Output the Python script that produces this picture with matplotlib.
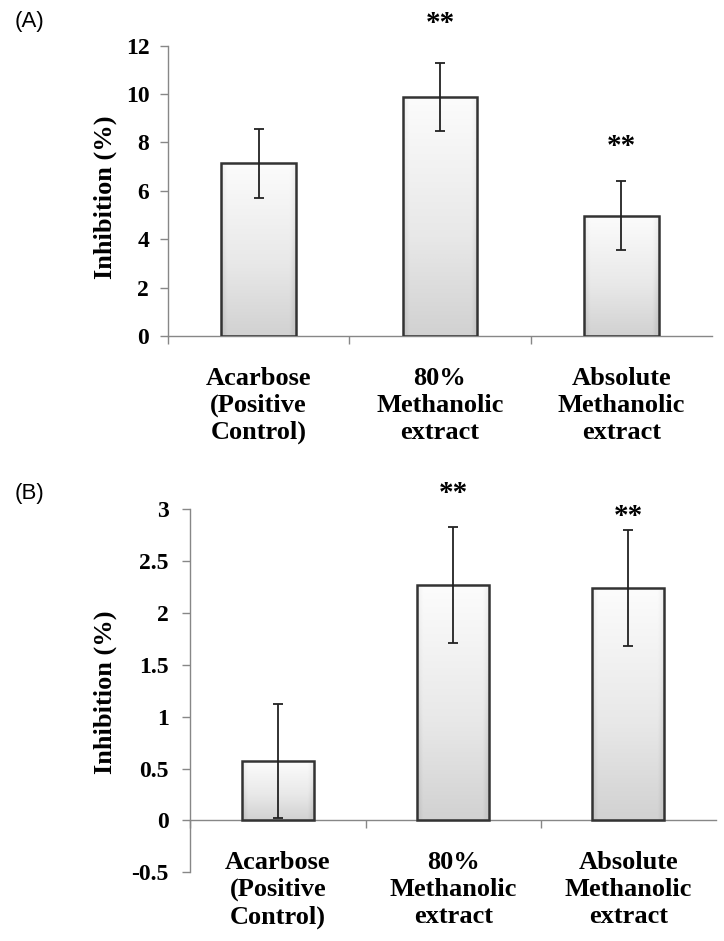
import numpy as np
import matplotlib
matplotlib.use("Agg")
import matplotlib.pyplot as plt
from matplotlib.colors import LinearSegmentedColormap

categories = ["Acarbose\n(Positive\nControl)", "80%\nMethanolic\nextract", "Absolute\nMethanolic\nextract"]

a_means = [7.14, 9.88, 4.97]
a_errs = [1.42, 1.40, 1.43]
a_stars = ["", "**", "**"]
a_star_y = [None, 12.9, 7.85]
a_yticks = [0, 2, 4, 6, 8, 10, 12]

b_means = [0.57, 2.27, 2.24]
b_errs = [0.55, 0.56, 0.56]
b_stars = ["", "**", "**"]
b_star_y = [None, 3.15, 2.93]
b_yticks = [-0.5, 0, 0.5, 1, 1.5, 2, 2.5, 3]
b_yticklabels = ["-0.5", "0", "0.5", "1", "1.5", "2", "2.5", "3"]

SERIF = "Liberation Serif"
AXIS_GRAY = "#878787"

W, H = 724, 941
fig = plt.figure(figsize=(W / 100, H / 100), dpi=100)

def px_axes(left, right, top, bottom):
    return fig.add_axes([left / W, 1 - bottom / H, (right - left) / W, (bottom - top) / H])

cmap = LinearSegmentedColormap.from_list("g", ["#fcfcfc", "#e8e8e8", "#c8c8c8"])

def gradient_bars(ax, means):
    bars = ax.bar(range(len(means)), means, width=0.41, color="none",
                  edgecolor="#333333", linewidth=1.8, zorder=3)
    for b in bars:
        x0, y0 = b.get_x(), b.get_y()
        w, h = b.get_width(), b.get_height()
        ny, nx = 100, 60
        yy = np.linspace(0, 1, ny)[:, None]
        xx = np.linspace(0, 1, nx)[None, :]
        edge = np.clip(np.minimum(xx, 1 - xx) / 0.08, 0, 1)
        val = np.clip(yy * 0.85 + (1 - edge) * 0.3, 0, 1)
        im = ax.imshow(val, extent=(x0, x0 + w, y0, y0 + h), origin="upper", cmap=cmap,
                       vmin=0, vmax=1, aspect="auto", zorder=2, interpolation="bilinear")
        im.set_clip_path(b)
    return bars

def style_axes(ax, yticks, yticklabels, ylim, pad):
    ax.set_xlim(-0.5, 2.5)
    ax.set_ylim(*ylim)
    for s in ["top", "right"]:
        ax.spines[s].set_visible(False)
    ax.spines["left"].set_color(AXIS_GRAY)
    ax.spines["bottom"].set_color(AXIS_GRAY)
    ax.spines["left"].set_linewidth(1.0)
    ax.spines["bottom"].set_linewidth(1.0)
    ax.spines["bottom"].set_position(("data", 0))
    ax.set_yticks(yticks)
    ax.set_yticklabels(yticklabels, fontfamily=SERIF, fontweight="bold", fontsize=17)
    ax.tick_params(axis="y", direction="out", length=5.5, width=1.0, color=AXIS_GRAY, pad=pad)
    ax.set_xticks([-0.5, 0.5, 1.5])
    ax.set_xticklabels([])
    ax.tick_params(axis="x", direction="out", length=5.5, width=1.0, color=AXIS_GRAY)
    for i, c in enumerate(categories):
        ax.annotate(c, xy=(i, 0), xycoords="data", xytext=(0, -50), textcoords="offset points",
                    ha="center", va="center", fontfamily=SERIF, fontweight="bold",
                    fontsize=19, linespacing=1.22, annotation_clip=False)
    ax.set_ylabel("Inhibition (%)", fontfamily=SERIF, fontweight="bold", fontsize=19)

def stars(ax, labels, ys):
    for i, (s, y) in enumerate(zip(labels, ys)):
        if s:
            ax.text(i, y, s, ha="center", va="center", fontfamily=SERIF,
                    fontweight="bold", fontsize=21, clip_on=False)

# Panel A
axA = px_axes(168, 712, 45.7, 336)
gradient_bars(axA, a_means)
axA.errorbar(range(3), a_means, yerr=a_errs, fmt="none", ecolor="#222222",
             elinewidth=1.3, capsize=3.5, capthick=1.3, zorder=4)
style_axes(axA, a_yticks, [str(t) for t in a_yticks], (0, 12), 8.0)
stars(axA, a_stars, a_star_y)
axA.yaxis.set_label_coords((117 - 168) / 544, (336 - 197) / (336 - 45.7))
fig.text(15 / W, 1 - 22 / H, "(A)", fontfamily="Liberation Sans", fontsize=16,
         ha="left", va="center")

# Panel B
axB = px_axes(190.3, 716, 509.3, 872.3)
gradient_bars(axB, b_means)
axB.errorbar(range(3), b_means, yerr=b_errs, fmt="none", ecolor="#222222",
             elinewidth=1.3, capsize=3.5, capthick=1.3, zorder=4)
style_axes(axB, b_yticks, b_yticklabels, (-0.5, 3), 10.0)
stars(axB, b_stars, b_star_y)
axB.yaxis.set_label_coords((117 - 190.3) / 525.7, (872.3 - 692) / (872.3 - 509.3))
fig.text(15 / W, 1 - 494 / H, "(B)", fontfamily="Liberation Sans", fontsize=16,
         ha="left", va="center")

fig.savefig("out.png", dpi=100)
